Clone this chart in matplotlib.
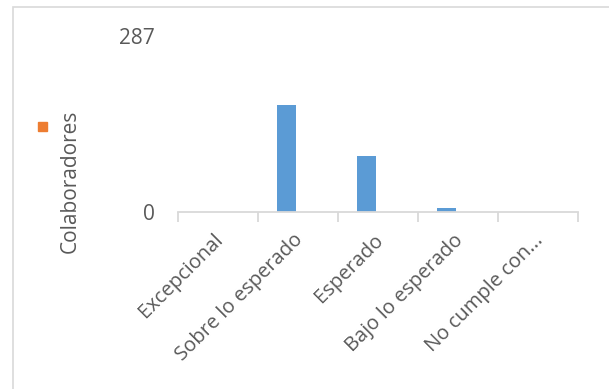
import matplotlib
matplotlib.use('Agg')
from matplotlib import pyplot as plt
from matplotlib.patches import Rectangle
from matplotlib.transforms import ScaledTranslation

# Data
categories = ['Excepcional', 'Sobre lo esperado', 'Esperado',
              'Bajo lo esperado', 'No cumple con...']
colaboradores = [0, 175, 91, 6, 0]
y_ticks = [0, 287]

plt.rcParams['font.family'] = ['Open Sans', 'DejaVu Sans']
text_color = '#595959'
grid_color = '#D9D9D9'

fig = plt.figure(figsize=(6.09, 3.89), dpi=100)

# Outer chart border (runs off right and bottom edges)
fig.patches.append(Rectangle((13 / 609, -0.1), 1.0, 1 - 7 / 389 + 0.1,
                             transform=fig.transFigure, fill=False,
                             edgecolor=grid_color, linewidth=1.2))

ax = fig.add_axes([178 / 609, 1 - 212 / 389, 400 / 609, 176 / 389])
x = [i - 0.145 for i in range(len(categories))]  # first of two series slots
ax.bar(x, colaboradores, width=0.24, color='#5B9BD5')

ax.set_xlim(-0.5, len(categories) - 0.5)
ax.set_ylim(0, y_ticks[-1])

for side in ['top', 'right', 'left']:
    ax.spines[side].set_visible(False)
ax.spines['bottom'].set_color(grid_color)
ax.spines['bottom'].set_linewidth(1.3)

# tick marks between categories
ax.set_xticks([i - 0.5 for i in range(len(categories) + 1)], minor=True)
ax.tick_params(axis='x', which='minor', length=7, color=grid_color, width=1.3)
ax.set_xticks(list(range(len(categories))))
ax.set_xticklabels(categories, rotation=45, ha='right', va='top',
                   rotation_mode='anchor', fontsize=14.5, color=text_color)
ax.tick_params(axis='x', which='major', length=0, pad=13)
shift = ScaledTranslation(-5 / 100, 0, fig.dpi_scale_trans)
for lbl in ax.get_xticklabels():
    lbl.set_transform(lbl.get_transform() + shift)

ax.set_yticks(y_ticks)
ax.set_yticklabels([str(t) for t in y_ticks], fontsize=15, color=text_color)
ax.tick_params(axis='y', length=0, pad=17)

fig.text(70 / 609, 1 - 181 / 389, 'Colaboradores', rotation=90,
         ha='center', va='center', fontsize=15, color=text_color)
fig.patches.append(Rectangle((38 / 609, 1 - 131 / 389), 9 / 609, 9 / 389,
                             transform=fig.transFigure, color='#ED7D31'))

fig.savefig('out.png', dpi=100)
